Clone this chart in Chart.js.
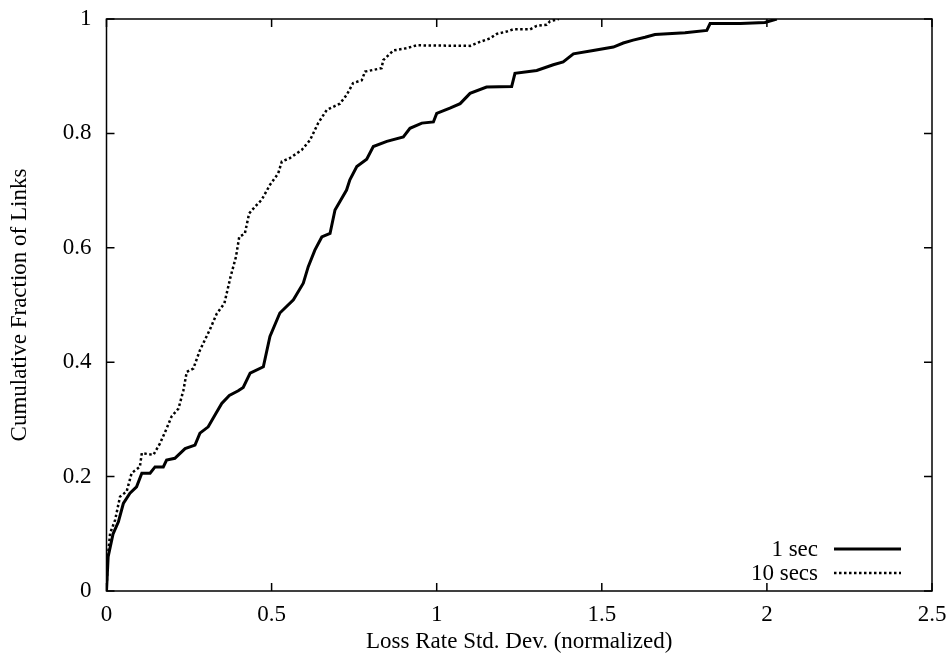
<!DOCTYPE html>
<html>
<head>
<meta charset="utf-8">
<script src="https://cdn.jsdelivr.net/npm/chart.js@4/dist/chart.umd.min.js"></script>
<style>
  html, body { margin: 0; padding: 0; background: #fff; }
  #wrap { width: 948px; height: 662px; }
</style>
</head>
<body>
<div id="wrap"><canvas id="c" width="948" height="662"></canvas></div>
<script>
// ---- data ----
const seriesLabels = ['1 sec', '10 secs'];

const solidX = [0, 0.005, 0.02, 0.036, 0.051, 0.071, 0.091, 0.107, 0.132, 0.147, 0.172, 0.182, 0.207, 0.238, 0.268, 0.283, 0.308, 0.329, 0.349, 0.372, 0.399, 0.414, 0.435, 0.475, 0.495, 0.525, 0.566, 0.596, 0.611, 0.631, 0.652, 0.677, 0.692, 0.727, 0.737, 0.758, 0.788, 0.808, 0.849, 0.899, 0.919, 0.955, 0.990, 1.0, 1.040, 1.071, 1.101, 1.151, 1.227, 1.237, 1.303, 1.353, 1.383, 1.414, 1.474, 1.535, 1.565, 1.595, 1.631, 1.661, 1.752, 1.818, 1.828, 1.92, 1.994, 2.03];
const solidY = [0, 0.06, 0.10, 0.121, 0.153, 0.171, 0.182, 0.206, 0.206, 0.217, 0.217, 0.229, 0.232, 0.249, 0.255, 0.276, 0.287, 0.308, 0.328, 0.342, 0.350, 0.356, 0.381, 0.392, 0.445, 0.486, 0.509, 0.538, 0.567, 0.596, 0.619, 0.625, 0.666, 0.701, 0.719, 0.742, 0.755, 0.777, 0.786, 0.794, 0.809, 0.818, 0.820, 0.835, 0.844, 0.852, 0.870, 0.881, 0.882, 0.905, 0.910, 0.920, 0.925, 0.939, 0.945, 0.951, 0.958, 0.963, 0.968, 0.973, 0.976, 0.980, 0.992, 0.992, 0.994, 1.0];

const dottedX = [0, 0.004, 0.011, 0.026, 0.041, 0.061, 0.076, 0.101, 0.107, 0.142, 0.162, 0.182, 0.197, 0.218, 0.233, 0.243, 0.263, 0.283, 0.313, 0.334, 0.357, 0.376, 0.392, 0.402, 0.419, 0.432, 0.450, 0.470, 0.495, 0.520, 0.531, 0.553, 0.591, 0.616, 0.641, 0.667, 0.707, 0.727, 0.747, 0.773, 0.783, 0.808, 0.833, 0.838, 0.869, 0.909, 0.939, 1.101, 1.131, 1.161, 1.182, 1.212, 1.232, 1.283, 1.303, 1.333, 1.343, 1.37];
const dottedY = [0, 0.06, 0.101, 0.124, 0.165, 0.174, 0.206, 0.217, 0.241, 0.238, 0.258, 0.284, 0.305, 0.319, 0.351, 0.383, 0.389, 0.421, 0.457, 0.485, 0.503, 0.550, 0.584, 0.619, 0.625, 0.660, 0.672, 0.684, 0.710, 0.730, 0.751, 0.756, 0.771, 0.788, 0.818, 0.841, 0.852, 0.867, 0.888, 0.893, 0.908, 0.911, 0.914, 0.928, 0.945, 0.949, 0.954, 0.953, 0.960, 0.966, 0.974, 0.978, 0.982, 0.982, 0.988, 0.990, 0.996, 1.0];

const xTicks = [0, 0.5, 1, 1.5, 2, 2.5];
const yTicks = [0, 0.2, 0.4, 0.6, 0.8, 1];
const xTitle = 'Loss Rate Std. Dev. (normalized)';
const yTitle = 'Cumulative Fraction of Links';

// ---- build ----
const FONT = 'Liberation Serif';
const toPts = (xs, ys) => xs.map((x, i) => ({ x: x, y: ys[i] }));

const framePlugin = {
  id: 'frame',
  afterDatasetsDraw(chart) {
    const { ctx, chartArea: a, scales } = chart;
    ctx.save();
    ctx.strokeStyle = '#000';
    ctx.lineWidth = 1.5;
    ctx.strokeRect(a.left, a.top, a.right - a.left, a.bottom - a.top);
    const tl = 8;
    ctx.beginPath();
    xTicks.forEach(v => {
      const px = scales.x.getPixelForValue(v);
      ctx.moveTo(px, a.bottom); ctx.lineTo(px, a.bottom - tl);
      ctx.moveTo(px, a.top); ctx.lineTo(px, a.top + tl);
    });
    yTicks.forEach(v => {
      const py = scales.y.getPixelForValue(v);
      ctx.moveTo(a.left, py); ctx.lineTo(a.left + tl, py);
      ctx.moveTo(a.right, py); ctx.lineTo(a.right - tl, py);
    });
    ctx.stroke();

    // legend (bottom-right, inside)
    ctx.font = '23px "' + FONT + '"';
    ctx.fillStyle = '#000';
    ctx.textAlign = 'right';
    ctx.textBaseline = 'middle';
    const textRight = a.right - 114;
    const lineL = a.right - 98, lineR = a.right - 31;
    const rows = [a.bottom - 42, a.bottom - 18];
    chart.data.datasets.forEach((ds, i) => {
      const y = rows[i];
      ctx.fillText(ds.label, textRight, y + 1);
      ctx.beginPath();
      ctx.lineWidth = ds.borderWidth;
      ctx.setLineDash(ds.borderDash || []);
      ctx.moveTo(lineL, y); ctx.lineTo(lineR, y);
      ctx.stroke();
    });
    ctx.restore();
  }
};

new Chart(document.getElementById('c'), {
  type: 'scatter',
  data: {
    datasets: [
      {
        label: seriesLabels[0],
        data: toPts(solidX, solidY),
        showLine: true,
        borderColor: '#000',
        borderWidth: 3,
        pointRadius: 0,
        tension: 0,
        fill: false
      },
      {
        label: seriesLabels[1],
        data: toPts(dottedX, dottedY),
        showLine: true,
        borderColor: '#000',
        borderWidth: 2.5,
        borderDash: [2.5, 2.5],
        pointRadius: 0,
        tension: 0,
        fill: false
      }
    ]
  },
  options: {
    responsive: false,
    animation: false,
    devicePixelRatio: 1,
    layout: { padding: { top: 19, right: 16, left: 0, bottom: 0 } },
    plugins: { legend: { display: false }, tooltip: { enabled: false } },
    scales: {
      x: {
        type: 'linear',
        min: 0, max: 2.5,
        afterBuildTicks: s => { s.ticks = xTicks.map(v => ({ value: v })); },
        afterFit: s => { s.height = 71; s.paddingLeft = 0; s.paddingRight = 0; },
        grid: { display: false, drawTicks: false },
        border: { display: false },
        ticks: {
          color: '#000',
          padding: 10,
          maxRotation: 0,
          font: { family: FONT, size: 23 },
          callback: v => String(v)
        },
        title: {
          display: true,
          text: xTitle,
          color: '#000',
          font: { family: FONT, size: 23, lineHeight: 1.2 },
          padding: { top: 0, bottom: 6 }
        }
      },
      y: {
        type: 'linear',
        min: 0, max: 1,
        afterBuildTicks: s => { s.ticks = yTicks.map(v => ({ value: v })); },
        afterFit: s => { s.width = 106.5; s.paddingTop = 0; s.paddingBottom = 0; },
        grid: { display: false, drawTicks: false },
        border: { display: false },
        ticks: {
          color: '#000',
          padding: 15,
          font: { family: FONT, size: 23 },
          callback: v => String(v)
        },
        title: {
          display: true,
          text: yTitle,
          color: '#000',
          font: { family: FONT, size: 23, lineHeight: 1.2 },
          padding: { top: 6, bottom: 0 }
        }
      }
    }
  },
  plugins: [framePlugin]
});
</script>
</body>
</html>
